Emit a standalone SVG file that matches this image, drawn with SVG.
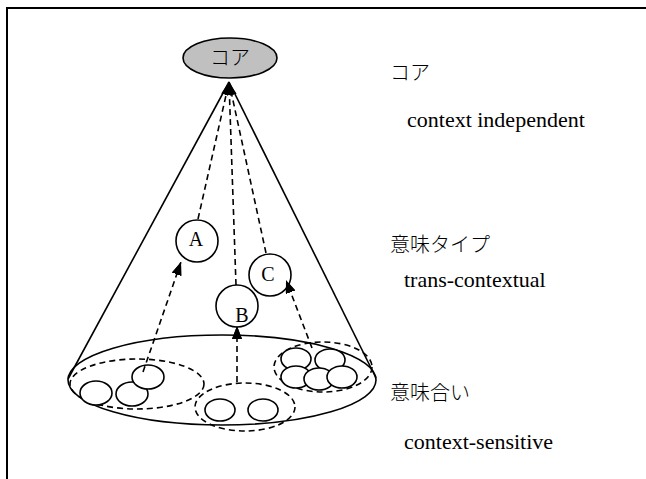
<svg xmlns="http://www.w3.org/2000/svg" width="646" height="479" viewBox="0 0 646 479">
  <style>
    .frame { stroke: #000; stroke-width: 2; fill: none; }
    .solid { stroke: #000; stroke-width: 1.6; fill: none; }
    .dash { stroke: #000; stroke-width: 1.6; fill: none; stroke-dasharray: 6 4; }
    .circ { stroke: #000; stroke-width: 1.6; fill: #fff; }
    .small { stroke: #000; stroke-width: 1.6; fill: #fff; }
    .en { font-family: "Liberation Serif", "Times New Roman", serif; font-size: 22px; fill: #000; }
    .ja { font-family: "Liberation Serif", "Noto Sans CJK JP", sans-serif; font-size: 20px; font-weight: 300; fill: #000; }
    .lbl { font-family: "Liberation Serif", serif; font-size: 20px; fill: #000; text-anchor: middle; }
  </style>
  <defs>
    <marker id="arrow" viewBox="0 0 13 10" refX="13" refY="5" markerWidth="13" markerHeight="10" markerUnits="userSpaceOnUse" orient="auto">
      <path d="M0,0 L13,5 L0,10 Z" fill="#000"/>
    </marker>
  </defs>

  <!-- page frame (top and left rules) -->
  <g id="frame">
    <line class="frame" x1="6" y1="8" x2="646" y2="8"/>
    <line class="frame" x1="7" y1="8" x2="7" y2="479"/>
  </g>

  <!-- cone outline -->
  <g id="cone">
    <line class="solid" x1="229" y1="82" x2="68" y2="379"/>
    <line class="solid" x1="229" y1="82" x2="376" y2="378"/>
    <ellipse class="solid" cx="222" cy="380" rx="154" ry="45"/>
  </g>

  <!-- context groups at the base -->
  <g id="group-left">
    <ellipse class="dash" cx="137" cy="384" rx="67" ry="25"/>
    <ellipse class="small" cx="96" cy="393" rx="16" ry="12"/>
    <ellipse class="small" cx="132" cy="394" rx="16" ry="12"/>
    <ellipse class="small" cx="148" cy="377" rx="16" ry="12"/>
  </g>
  <g id="group-middle">
    <ellipse class="dash" cx="245" cy="407" rx="50" ry="24"/>
    <ellipse class="small" cx="220" cy="410" rx="15" ry="11"/>
    <ellipse class="small" cx="263" cy="410" rx="15" ry="11"/>
  </g>
  <g id="group-right">
    <ellipse class="dash" cx="323" cy="367" rx="49" ry="25"/>
    <ellipse class="small" cx="296" cy="359" rx="15" ry="11"/>
    <ellipse class="small" cx="330" cy="360" rx="15" ry="11"/>
    <ellipse class="small" cx="296" cy="377" rx="15" ry="11"/>
    <ellipse class="small" cx="319" cy="379" rx="15" ry="11"/>
    <ellipse class="small" cx="342" cy="377" rx="15" ry="11"/>
  </g>

  <!-- connectors -->
  <g id="connectors">
    <line class="dash" x1="143" y1="372" x2="181" y2="262" marker-end="url(#arrow)"/>
    <line class="dash" x1="237" y1="382" x2="237" y2="326" marker-end="url(#arrow)"/>
    <line class="dash" x1="312" y1="348" x2="286" y2="280" marker-end="url(#arrow)"/>
    <line class="dash" x1="198" y1="219" x2="229" y2="82" marker-end="url(#arrow)"/>
    <line class="dash" x1="236" y1="285" x2="229" y2="82" marker-end="url(#arrow)"/>
    <line class="dash" x1="266" y1="253" x2="229" y2="82" marker-end="url(#arrow)"/>
  </g>

  <!-- core node -->
  <g id="core">
    <ellipse cx="230" cy="58" rx="47" ry="20" fill="#c0c0c0" stroke="#000" stroke-width="1.6"/>
    <text class="ja" x="230" y="65" text-anchor="middle" font-size="18">コア</text>
  </g>

  <!-- sense types -->
  <g id="type-a">
    <circle class="circ" cx="197" cy="241" r="21"/>
    <text class="lbl" x="196" y="246">A</text>
  </g>
  <g id="type-b">
    <circle class="circ" cx="237" cy="306" r="21"/>
    <text class="lbl" x="242" y="322">B</text>
  </g>
  <g id="type-c">
    <circle class="circ" cx="270" cy="275" r="21"/>
    <text class="lbl" x="268" y="281">C</text>
  </g>

  <!-- arrowheads drawn over the circles -->
  <g id="heads">
    <line x1="160" y1="318" x2="181" y2="262" stroke="none" marker-end="url(#arrow)"/>
    <line x1="237" y1="360" x2="237" y2="326" stroke="none" marker-end="url(#arrow)"/>
    <line x1="300" y1="318" x2="286" y2="280" stroke="none" marker-end="url(#arrow)"/>
  </g>

  <!-- level legend -->
  <g id="legend">
    <text class="ja" x="390" y="80">コア</text>
    <text class="en" x="407" y="127">context independent</text>
    <text class="ja" x="390" y="252">意味タイプ</text>
    <text class="en" x="404" y="287">trans-contextual</text>
    <text class="ja" x="390" y="400">意味合い</text>
    <text class="en" x="404" y="449">context-sensitive</text>
  </g>
</svg>
